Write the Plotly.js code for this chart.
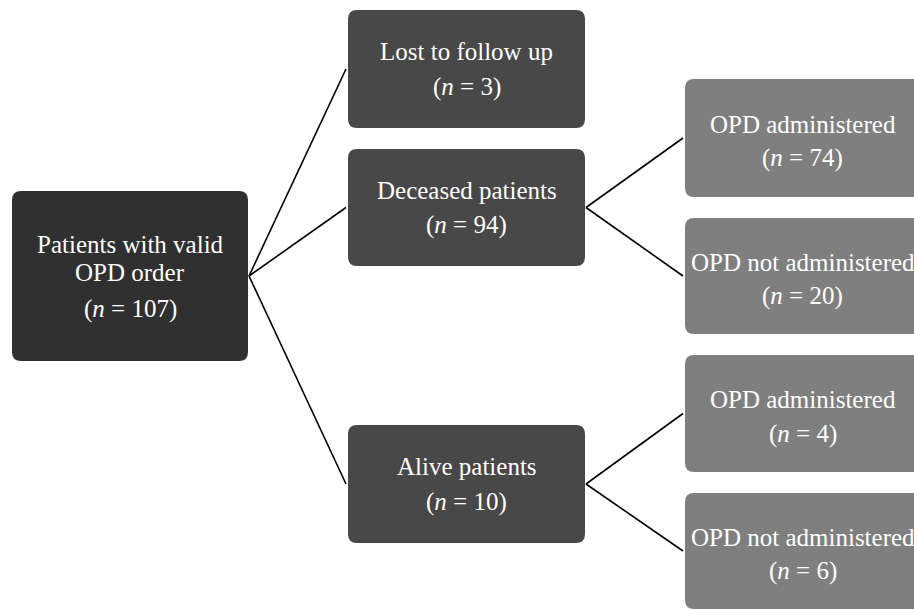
<!DOCTYPE html>
<html>
<head>
<meta charset="utf-8">
<script src="https://cdn.plot.ly/plotly-3.0.1.min.js"></script>
<style>html,body{margin:0;padding:0;background:#fff;}#chart{width:914px;height:611px;}</style>
</head>
<body>
<div id="chart"></div>
<script>
// ---- data ----
const nodeIds    = ["root", "lost", "deceased", "alive", "decAdm", "decNot", "aliveAdm", "aliveNot"];
const nodeLabels = ["Patients with valid<br>OPD order", "Lost to follow up", "Deceased patients", "Alive patients",
                    "OPD administered", "OPD not administered", "OPD administered", "OPD not administered"];
const nodeCounts = [107, 3, 94, 10, 74, 20, 4, 6];
const nodeParent = [null, "root", "root", "root", "deceased", "deceased", "alive", "alive"];

// ---- layout geometry (pixel space) ----
const geom = {
  root:     {x0: 12,  x1: 248, y0: 191, y1: 361, fill: "#303030", labelDy: [-32, -4], countDy: 33},
  lost:     {x0: 348, x1: 585, y0: 10,  y1: 128, fill: "#484848", labelDy: [-18], countDy: 18},
  deceased: {x0: 348, x1: 585, y0: 149, y1: 266, fill: "#484848", labelDy: [-17], countDy: 17},
  alive:    {x0: 348, x1: 585, y0: 425, y1: 543, fill: "#484848", labelDy: [-18], countDy: 18},
  decAdm:   {x0: 685, x1: 922, y0: 79,  y1: 197, fill: "#7f7f7f", labelDy: [-14], countDy: 20},
  decNot:   {x0: 685, x1: 922, y0: 218, y1: 334, fill: "#7f7f7f", labelDy: [-14], countDy: 20},
  aliveAdm: {x0: 685, x1: 922, y0: 355, y1: 472, fill: "#7f7f7f", labelDy: [-14], countDy: 20},
  aliveNot: {x0: 685, x1: 922, y0: 493, y1: 609, fill: "#7f7f7f", labelDy: [-14], countDy: 20}
};
const R = 9;

function roundRect(g) {
  const {x0, x1, y0, y1} = g;
  return `M ${x0+R},${y0} L ${x1-R},${y0} Q ${x1},${y0} ${x1},${y0+R} L ${x1},${y1-R} Q ${x1},${y1} ${x1-R},${y1} ` +
         `L ${x0+R},${y1} Q ${x0},${y1} ${x0},${y1-R} L ${x0},${y0+R} Q ${x0},${y0} ${x0+R},${y0} Z`;
}

const shapes = [];
const annotations = [];
const traces = [];
const font = {family: "Liberation Serif, Times New Roman, serif", size: 25, color: "#ffffff"};

nodeIds.forEach((id, i) => {
  const g = geom[id];
  const cx = (g.x0 + Math.min(g.x1, 920)) / 2;
  const cy = (g.y0 + g.y1) / 2;
  shapes.push({type: "path", xref: "x", yref: "y", path: roundRect(g),
               fillcolor: g.fill, line: {width: 0}, layer: "below"});
  const lines = nodeLabels[i].split("<br>");
  lines.forEach((line, k) => {
    annotations.push({x: cx, y: cy + g.labelDy[k], xref: "x", yref: "y", text: line,
                      showarrow: false, font: font, align: "center", borderpad: 0});
  });
  annotations.push({x: cx, y: cy + g.countDy, xref: "x", yref: "y",
                    text: "(<i>n</i> = " + nodeCounts[i] + ")",
                    showarrow: false, font: font, align: "center", borderpad: 0});
  const p = nodeParent[i];
  if (p) {
    const pg = geom[p];
    traces.push({x: [pg.x1 + 1, g.x0 - 2], y: [(pg.y0 + pg.y1) / 2, cy],
                 type: "scatter", mode: "lines", line: {color: "#000000", width: 1.6},
                 hoverinfo: "skip", showlegend: false});
  }
});

const layout = {
  width: 914, height: 611,
  margin: {l: 0, r: 0, t: 0, b: 0},
  paper_bgcolor: "#ffffff", plot_bgcolor: "#ffffff",
  xaxis: {range: [0, 914], visible: false, fixedrange: true},
  yaxis: {range: [611, 0], visible: false, fixedrange: true},
  shapes: shapes, annotations: annotations, showlegend: false
};
Plotly.newPlot("chart", traces, layout, {displayModeBar: false, staticPlot: true});
</script>
</body>
</html>
